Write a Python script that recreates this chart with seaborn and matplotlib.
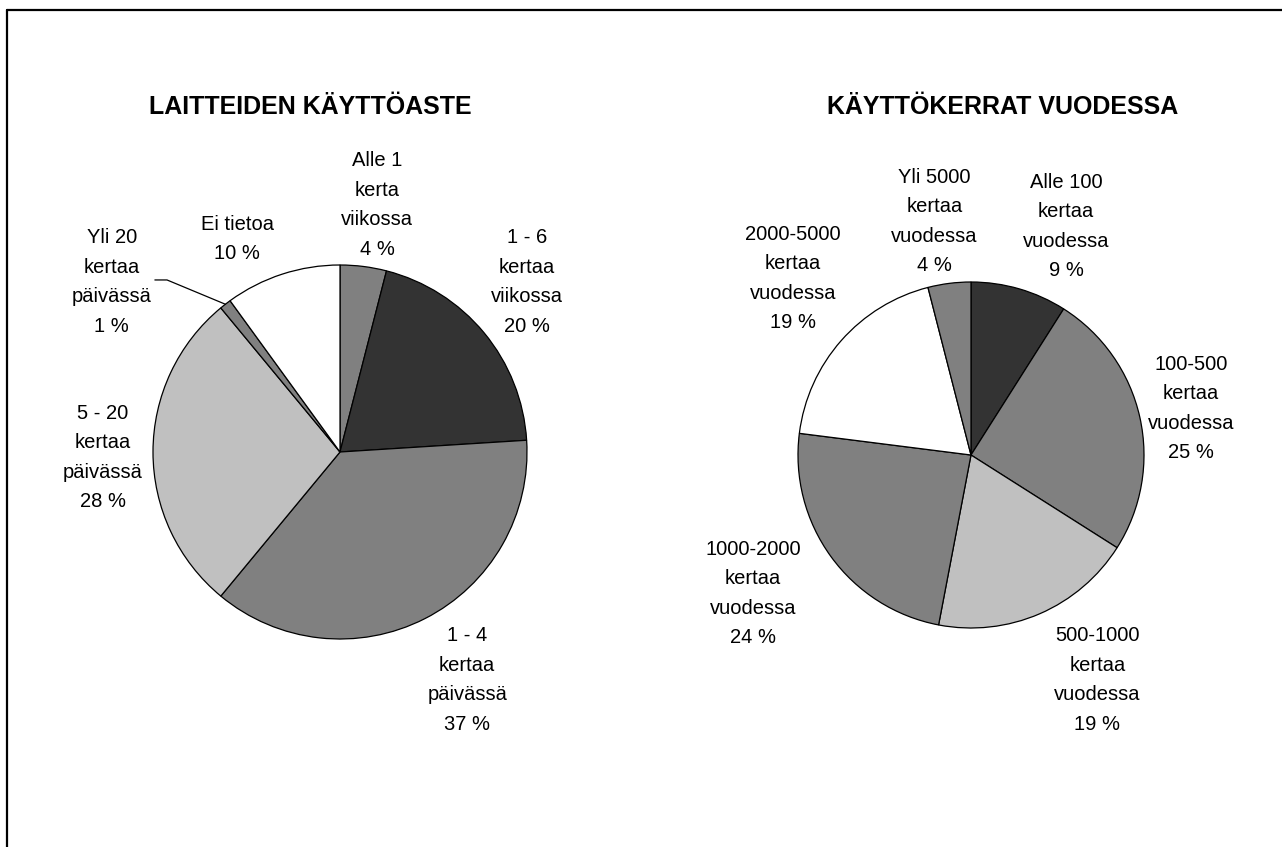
import matplotlib
matplotlib.use("Agg")
import matplotlib.pyplot as plt
from matplotlib.lines import Line2D
import numpy as np
import seaborn as sns

sns.set_theme(style="white")
plt.rcParams['font.family'] = ['Liberation Sans', 'DejaVu Sans']
plt.rcParams['text.color'] = 'black'

# --- data ---
title_left = "LAITTEIDEN KÄYTTÖASTE"
labels_left = ["Alle 1\nkerta\nviikossa", "1 - 6\nkertaa\nviikossa", "1 - 4\nkertaa\npäivässä",
               "5 - 20\nkertaa\npäivässä", "Yli 20\nkertaa\npäivässä", "Ei tietoa"]
values_left = [4, 20, 37, 28, 1, 10]

title_right = "KÄYTTÖKERRAT VUODESSA"
labels_right = ["Alle 100\nkertaa\nvuodessa", "100-500\nkertaa\nvuodessa", "500-1000\nkertaa\nvuodessa",
                "1000-2000\nkertaa\nvuodessa", "2000-5000\nkertaa\nvuodessa", "Yli 5000\nkertaa\nvuodessa"]
values_right = [9, 25, 19, 24, 19, 4]

# grey shades used by the slices
dark, mid, light, white = "#333333", "#808080", "#c0c0c0", "#ffffff"
colors_left = [mid, dark, mid, light, mid, white]
colors_right = [dark, mid, light, mid, white, mid]

# label positions (units of pie radius)
pos_left = [(0.20, 1.32), (1.0, 0.91), (0.68, -1.22), (-1.27, -0.03), (-1.22, 0.91), (-0.55, 1.14)]
pos_right = [(0.55, 1.32), (1.27, 0.27), (0.73, -1.30), (-1.26, -0.80), (-1.03, 1.02), (-0.21, 1.35)]

W, H = 1282, 847
fig = plt.figure(figsize=(W / 100, H / 100), dpi=100)
L = 1.8


def pie_axes(cx, cy, r):
    half = L * r
    return fig.add_axes([(cx - half) / W, (H - cy - half) / H, 2 * half / W, 2 * half / H])


def draw_pie(ax, values, labels, colors, pos):
    ax.pie(values, colors=colors, startangle=90, counterclock=False,
           wedgeprops=dict(edgecolor="black", linewidth=0.9))
    for lab, v, (x, y) in zip(labels, values, pos):
        ax.text(x, y, f"{lab}\n{v} %", ha="center", va="center", fontsize=14.5,
                linespacing=1.7, color="black")
    ax.set_xlim(-L, L)
    ax.set_ylim(-L, L)
    ax.set_aspect("equal")
    ax.axis("off")


ax1 = pie_axes(340, 452, 187)
draw_pie(ax1, values_left, labels_left, colors_left, pos_left)

# leader line for the tiny slice
cum = np.cumsum([0] + values_left)
i = 4
mid_ang = np.deg2rad(90 - (cum[i] + values_left[i] / 2) / sum(values_left) * 360)
ax1.plot([np.cos(mid_ang), -0.925, -0.99], [np.sin(mid_ang), 0.92, 0.92], color="black", lw=0.9)

ax2 = pie_axes(971, 455, 173)
draw_pie(ax2, values_right, labels_right, colors_right, pos_right)

fig.text(310 / W, 1 - 107 / H, title_left, ha="center", va="center", fontsize=18,
         fontweight="bold", color="black")
fig.text(1003 / W, 1 - 107 / H, title_right, ha="center", va="center", fontsize=18,
         fontweight="bold", color="black")

# frame (left and top edges visible)
fig.add_artist(Line2D([6.5 / W, 6.5 / W], [0, 1 - 10 / H], transform=fig.transFigure, color="black", lw=1.6))
fig.add_artist(Line2D([6.5 / W, 1], [1 - 10 / H, 1 - 10 / H], transform=fig.transFigure, color="black", lw=1.6))

fig.savefig("out.png", dpi=100, facecolor="white")
